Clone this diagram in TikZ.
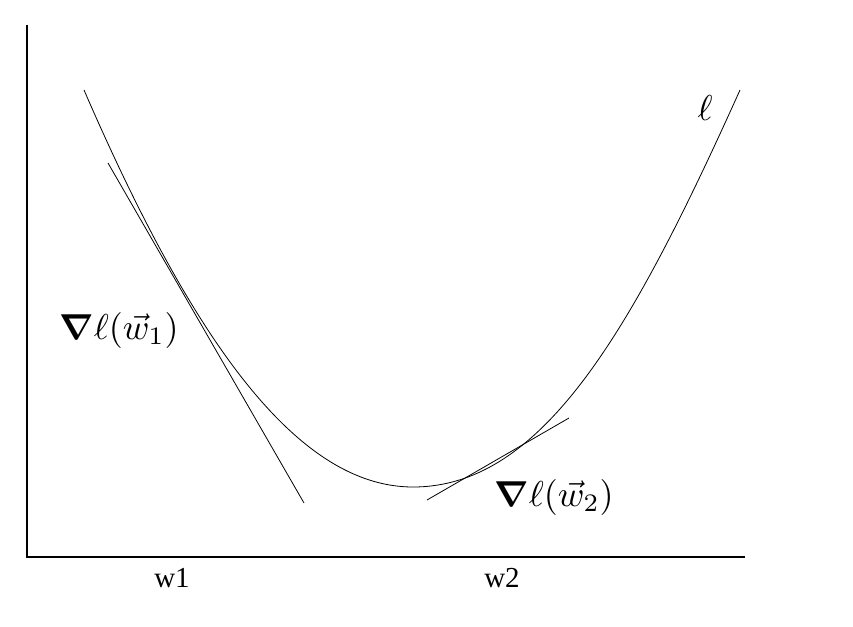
\documentclass[tikz,border=0pt]{standalone}
\usepackage{graphicx}
\usepackage{amsmath}
\usepackage{bm}
\usepackage{fontspec}
\setmainfont{Liberation Serif}
\newcommand{\bigmath}[1]{\scalebox{3.6}{$#1$}}
\begin{document}
\begin{tikzpicture}[x=1pt,y=-1pt,
  thinline/.style={line width=0.8pt, black},
  axisline/.style={line width=1.1pt, black},
  mathlabel/.style={inner sep=0pt},
  ticklabel/.style={inner sep=0pt, font=\fontsize{29}{34}\selectfont}]
\useasboundingbox (0,0) rectangle (853,626);
% axes
\coordinate (ytop) at (27,25);
\coordinate (orig) at (27,557);
\coordinate (xend) at (745,557);
\draw[axisline] (ytop) -- (orig) -- (xend);
% curve
\coordinate (cstart) at (84,90);
\coordinate (cmin) at (413,487);
\coordinate (cend) at (740,90);
\draw[thinline] (cstart) .. controls (188,330) and (293,487) .. (cmin)
  .. controls (543,487) and (632,330) .. (cend);
% tangents
\coordinate (t1a) at (108,163);
\coordinate (t1b) at (304,503);
\draw[thinline] (t1a) -- (t1b);
\coordinate (t2a) at (427,500);
\coordinate (t2b) at (569,418);
\draw[thinline] (t2a) -- (t2b);
% labels
\node[mathlabel] (g1) at (119,330) {\bigmath{\bm{\nabla}\ell(\vec{w}_1)}};
\node[mathlabel] (g2) at (554,497) {\bigmath{\bm{\nabla}\ell(\vec{w}_2)}};
\node[mathlabel] (ell) at (705,108) {\bigmath{\ell}};
\node[ticklabel] (w1) at (172,578) {w1};
\node[ticklabel] (w2) at (502,578) {w2};
\end{tikzpicture}
\end{document}
